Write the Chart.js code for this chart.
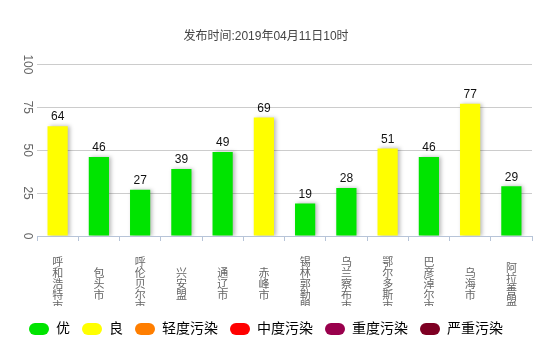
<!DOCTYPE html>
<html>
<head>
<meta charset="utf-8">
<script src="https://cdn.jsdelivr.net/npm/chart.js@4"></script>
<style>
  html, body { margin: 0; padding: 0; background: #fff; }
  #wrap { width: 546px; height: 350px; }
</style>
</head>
<body>
<div id="wrap"><canvas id="aqiChart"></canvas></div>
<script>
const cities = ['呼和浩特市', '包头市', '呼伦贝尔市', '兴安盟', '通辽市', '赤峰市', '锡林郭勒盟', '乌兰察布市', '鄂尔多斯市', '巴彦淖尔市', '乌海市', '阿拉善盟'];
const aqiValues = [64, 46, 27, 39, 49, 69, 19, 28, 51, 46, 77, 29];
const yTicks = [0, 25, 50, 75, 100];

const levelNames = ['优', '良', '轻度污染', '中度污染', '重度污染', '严重污染'];
const levelMax = [50, 100, 150, 200, 300, 500];
const levelColors = ['#00e400', '#ffff00', '#ff7e00', '#ff0000', '#99004c', '#7e0023'];

const FONT = '"Liberation Sans", "Noto Sans CJK SC", sans-serif';

function colorFor(v) {
    for (let i = 0; i < levelMax.length; i++) {
        if (v <= levelMax[i]) return levelColors[i];
    }
    return levelColors[levelColors.length - 1];
}

// shadow under the bars + numbers above them
const barDecor = {
    id: 'barDecor',
    beforeDatasetsDraw(chart) {
        const ctx = chart.ctx;
        ctx.save();
        ctx.shadowColor = 'rgba(0, 0, 0, 0.28)';
        ctx.shadowBlur = 4;
        ctx.shadowOffsetX = 2;
        ctx.shadowOffsetY = 0;
    },
    afterDatasetsDraw(chart) {
        const ctx = chart.ctx;
        ctx.restore();
        const meta = chart.getDatasetMeta(0);
        ctx.save();
        ctx.font = '12px ' + FONT;
        ctx.fillStyle = '#111';
        ctx.textAlign = 'center';
        ctx.textBaseline = 'bottom';
        meta.data.forEach((bar, i) => {
            ctx.fillText(aqiValues[i], bar.x, bar.y - 3);
        });
        ctx.restore();
    },
    beforeDraw(chart) {
        // x labels are cut off at the bottom like the original
        const s = chart.scales.x;
        if (s && !s._clipWrapped) {
            const orig = s.drawLabels;
            s.drawLabels = function (area) {
                const ctx = this.ctx;
                ctx.save();
                ctx.beginPath();
                ctx.rect(this.left - 30, this.top, this.width + 60, 70);
                ctx.clip();
                orig.call(this, area);
                ctx.restore();
            };
            s._clipWrapped = true;
        }
    }
};

const ctx = document.getElementById('aqiChart').getContext('2d');
new Chart(ctx, {
    type: 'bar',
    data: {
        labels: cities.map(c => c.split('')),
        datasets: [{
            label: 'AQI',
            data: aqiValues,
            backgroundColor: aqiValues.map(colorFor),
            borderWidth: 0,
            barPercentage: 0.49,
            categoryPercentage: 1
        }]
    },
    options: {
        responsive: true,
        maintainAspectRatio: false,
        animation: false,
        layout: {
            padding: { left: 0, right: 14, top: 0, bottom: 4 }
        },
        scales: {
            x: {
                grid: {
                    display: true,
                    drawOnChartArea: false,
                    drawTicks: true,
                    tickLength: 5,
                    offset: true,
                    color: '#b7c4d8'
                },
                border: { display: true, color: '#b7c4d8' },
                ticks: {
                    autoSkip: false,
                    maxRotation: 0,
                    minRotation: 0,
                    crossAlign: 'center',
                    padding: 22,
                    color: '#666',
                    font: { size: 11, family: FONT, lineHeight: 1 }
                },
                afterFit(scale) { scale.height = 74; }
            },
            y: {
                min: 0,
                max: 100,
                afterBuildTicks(scale) { scale.ticks = yTicks.map(v => ({ value: v })); },
                grid: { color: '#cccccc', drawTicks: false },
                border: { display: false },
                ticks: {
                    minRotation: -90,
                    maxRotation: -90,
                    crossAlign: 'center',
                    padding: 0,
                    color: '#666',
                    font: { size: 12, family: FONT }
                },
                afterFit(scale) { scale.width = 37; }
            }
        },
        plugins: {
            title: {
                display: true,
                text: '发布时间:2019年04月11日10时',
                color: '#444',
                font: { size: 12, weight: 'normal', family: FONT },
                padding: { top: 29, bottom: 21 }
            },
            legend: {
                position: 'bottom',
                onClick: null,
                labels: {
                    boxWidth: 20,
                    boxHeight: 12,
                    padding: 12,
                    useBorderRadius: true,
                    borderRadius: 6,
                    color: '#333',
                    font: { size: 14, family: FONT },
                    generateLabels() {
                        return levelNames.map((name, i) => ({
                            text: name,
                            fillStyle: levelColors[i],
                            strokeStyle: levelColors[i],
                            lineWidth: 0,
                            borderRadius: 6,
                            hidden: false,
                            index: i
                        }));
                    }
                }
            },
            tooltip: { enabled: false }
        }
    },
    plugins: [barDecor]
});
</script>
</body>
</html>
